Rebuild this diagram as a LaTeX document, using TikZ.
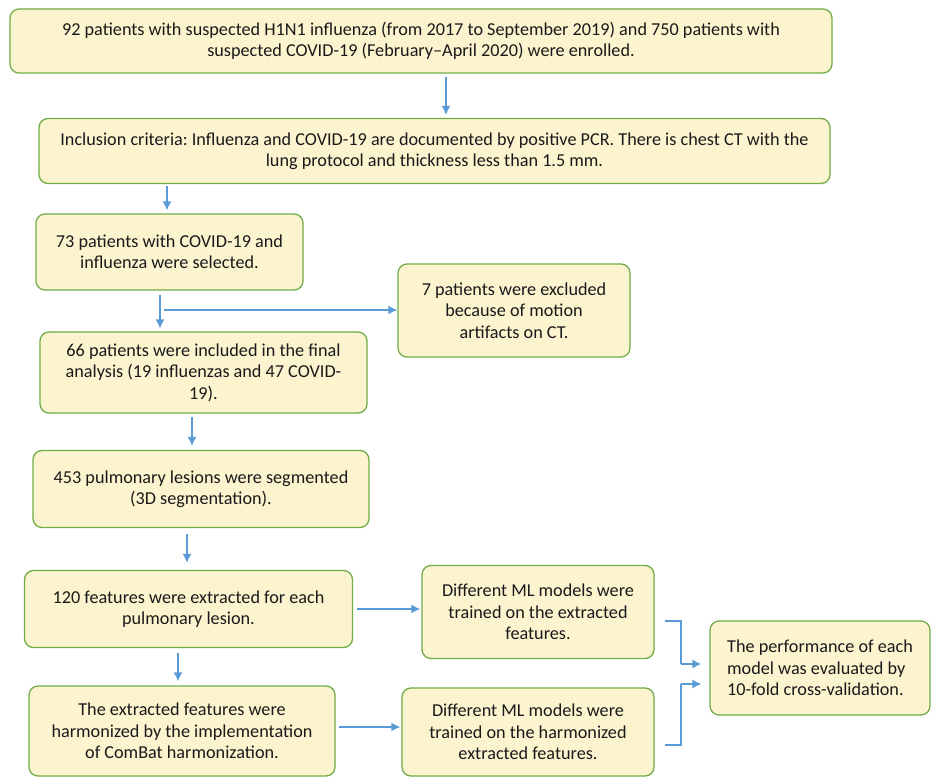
\documentclass[tikz,border=0pt]{standalone}
\usepackage{fontspec}
\setmainfont{Carlito}
\usetikzlibrary{arrows.meta}
\definecolor{boxfill}{HTML}{FCF3CF}
\definecolor{boxline}{HTML}{70AD47}
\definecolor{arrblue}{HTML}{5B9BD5}
\definecolor{txt}{HTML}{1A1A1A}
\frenchspacing
\tikzset{
  fbox/.style={draw=boxline, fill=boxfill, line width=1.3pt, rounded corners=9pt,
    align=center, inner sep=0pt, text=txt, font=\fontsize{18.2}{21.5}\selectfont\frenchspacing},
  arr/.style={draw=arrblue, line width=1.4pt, -{Latex[length=9pt,width=9pt]}},
  ln/.style={draw=arrblue, line width=1.4pt}
}
\begin{document}
\begin{tikzpicture}[x=1pt,y=-1pt]
\useasboundingbox (0,0) rectangle (931,778);
\node[fbox, minimum width=822pt, minimum height=64pt] (b1) at (421,41)
  {92 patients with suspected H1N1 influenza (from 2017 to September 2019) and 750 patients with\\suspected COVID-19 (February--April 2020) were enrolled.};
\node[fbox, minimum width=791pt, minimum height=65pt] (b2) at (434.5,151)
  {Inclusion criteria: Influenza and COVID-19 are documented by positive PCR. There is chest CT with the\\lung protocol and thickness less than 1.5 mm.};
\node[fbox, minimum width=267pt, minimum height=76pt] (b3) at (169.5,252)
  {73 patients with COVID-19 and\\influenza were selected.};
\node[fbox, minimum width=232pt, minimum height=93pt] (b4) at (514,310.5)
  {7 patients were excluded\\because of motion\\artifacts on CT.};
\node[fbox, minimum width=327pt, minimum height=81pt] (b5) at (203.5,372.5)
  {66 patients were included in the final\\analysis (19 influenzas and 47 COVID-\\19).};
\node[fbox, minimum width=336pt, minimum height=77pt] (b6) at (201,489)
  {453 pulmonary lesions were segmented\\(3D segmentation).};
\node[fbox, minimum width=328pt, minimum height=77pt] (b7) at (188.5,609)
  {120 features were extracted for each\\pulmonary lesion.};
\node[fbox, minimum width=306pt, minimum height=90pt] (b8) at (182,731)
  {The extracted features were\\harmonized by the implementation\\of ComBat harmonization.};
\node[fbox, minimum width=232pt, minimum height=93pt] (b9) at (538,612)
  {Different ML models were\\trained on the extracted\\features.};
\node[fbox, minimum width=252pt, minimum height=88pt] (b10) at (528,732)
  {Different ML models were\\trained on the harmonized\\extracted features.};
\node[fbox, minimum width=220pt, minimum height=94pt, align=left] (b11) at (820,668)
  {The performance of each\\model was evaluated by\\10-fold cross-validation.};

\coordinate (x446) at (446,0);
\coordinate (x167) at (167,0);
\coordinate (x160) at (160,0);
\coordinate (x164) at (164,310);
\coordinate (x192) at (192,0);
\coordinate (x187) at (187,0);
\coordinate (x178) at (178,0);
\coordinate (y609) at (0,609);
\coordinate (y727) at (0,727);
\coordinate (y621) at (0,621);
\coordinate (y745) at (0,745);
\coordinate (y664) at (0,664);
\coordinate (y684) at (0,684);
\coordinate (xj) at (681,0);

\draw[arr] ([yshift=-3pt]b1.south -| x446) -- ([yshift=3pt]b2.north -| x446);
\draw[arr] ([yshift=-2pt]b2.south -| x167) -- ([yshift=3pt]b3.north -| x167);
\draw[arr] ([yshift=-4pt]b3.south -| x160) -- ([yshift=3pt]b5.north -| x160);
\draw[arr] (x164) -- (x164 -| b4.west);
\draw[arr] ([yshift=-3pt]b5.south -| x192) -- ([yshift=4pt]b6.north -| x192);
\draw[arr] ([yshift=-6pt]b6.south -| x187) -- ([yshift=7pt]b7.north -| x187);
\draw[arr] ([xshift=4pt]b7.east |- y609) -- ([xshift=-1pt]b9.west |- y609);
\draw[arr] ([yshift=-5pt]b7.south -| x178) -- ([yshift=4pt]b8.north -| x178);
\draw[arr] ([xshift=3pt]b8.east |- y727) -- ([xshift=-1pt]b10.west |- y727);
\draw[ln] ([xshift=10pt]b9.east |- y621) -- (xj |- y621) -- (xj |- y664);
\draw[arr] (xj |- y664) -- ([xshift=-8pt]b11.west |- y664);
\draw[ln] ([xshift=10pt]b10.east |- y745) -- (xj |- y745) -- (xj |- y684);
\draw[arr] (xj |- y684) -- ([xshift=-8pt]b11.west |- y684);
\end{tikzpicture}
\end{document}
